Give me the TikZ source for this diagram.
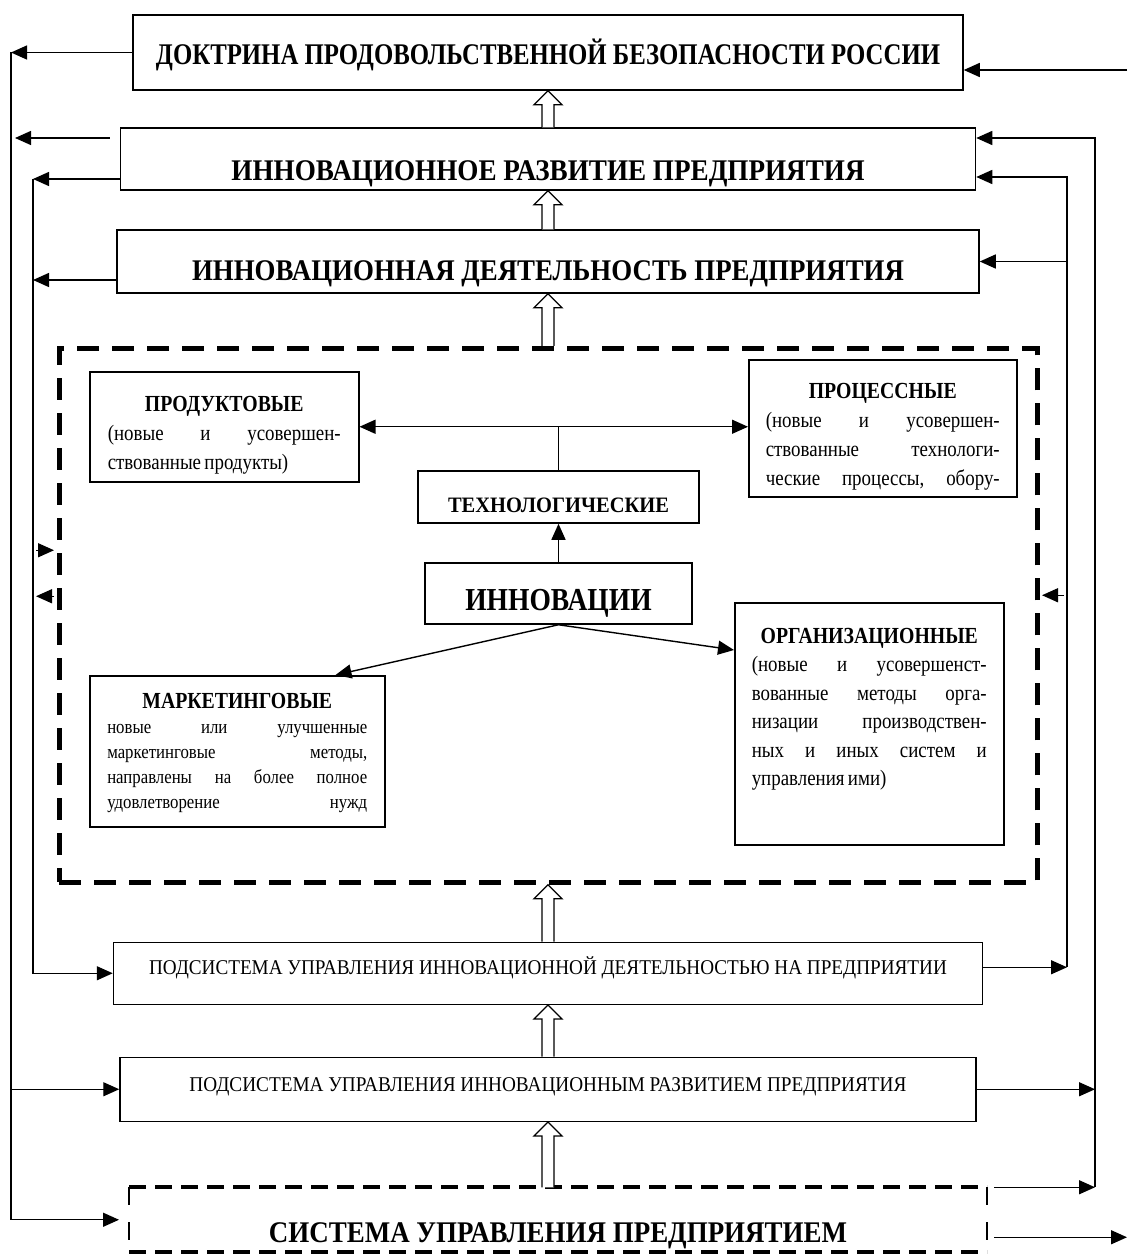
\documentclass[tikz,border=0pt]{standalone}
\usepackage{fontspec}
\usepackage{graphicx}
\setmainfont[FakeStretch=0.86]{Liberation Serif}
\usetikzlibrary{arrows.meta,calc,positioning}

\newcommand{\wide}[2]{\resizebox{#1}{\height}{#2}}
\newcommand{\hollow}[2]{%
  \draw[hollowarr] ($(#2.south |- #1.north)+(-6,0)$) -- ($(#2.south)+(-6,14)$) -- ($(#2.south)+(-14,14)$)
    -- (#2.south) -- ($(#2.south)+(14,14)$) -- ($(#2.south)+(6,14)$) -- ($(#2.south |- #1.north)+(6,0)$);}

\begin{document}
\begin{tikzpicture}[
    x=1pt, y=-1pt,
    box/.style={draw, line width=1.5pt, inner sep=0pt, align=center},
    big/.style={font=\fontsize{30}{36}\selectfont\bfseries},
    small/.style={font=\fontsize{21}{25}\selectfont},
    cell/.style={draw, line width=1.5pt, inner ysep=0pt, align=left, anchor=north west},
    arr/.style={-{Triangle[length=16pt,width=14pt]}, line width=1.4pt},
    both/.style={{Triangle[length=16pt,width=14pt]}-{Triangle[length=16pt,width=14pt]}, line width=1.4pt},
    hollowarr/.style={line width=1.3pt, fill=white},
    frame/.style={draw, line width=5pt, dash pattern=on 22pt off 13pt},
    sysh/.style={line width=4pt, dash pattern=on 17pt off 9pt},
    sysv/.style={line width=2.5pt, dash pattern=on 18pt off 17pt}
]
    \useasboundingbox (0,0) rectangle (1127,1255);

    \node[box, big, minimum width=830pt, minimum height=75pt, text height=25pt, text depth=0pt] (doc) at (548,52.5) {\wide{784pt}{ДОКТРИНА ПРОДОВОЛЬСТВЕННОЙ БЕЗОПАСНОСТИ РОССИИ}};
    \node[box, big, minimum width=855pt, minimum height=62pt, text height=42pt, text depth=0pt, below=36.5pt of doc] (dev) {\wide{633pt}{ИННОВАЦИОННОЕ РАЗВИТИЕ ПРЕДПРИЯТИЯ}};
    \node[box, big, minimum width=862pt, minimum height=63pt, text height=37pt, text depth=0pt, below=38.5pt of dev] (act) {\wide{712pt}{ИННОВАЦИОННАЯ ДЕЯТЕЛЬНОСТЬ ПРЕДПРИЯТИЯ}};
    \node[frame, minimum width=978pt, minimum height=534pt, below=52pt of act] (frame) {};
    \node[box, small, minimum width=869pt, minimum height=62pt, text height=14pt, text depth=12pt, below=56.75pt of frame] (sub1) {\wide{798pt}{ПОДСИСТЕМА УПРАВЛЕНИЯ ИННОВАЦИОННОЙ ДЕЯТЕЛЬНОСТЬЮ НА ПРЕДПРИЯТИИ}};
    \node[box, small, minimum width=856pt, minimum height=64pt, text height=14pt, text depth=10pt, below=51.5pt of sub1] (sub2) {\wide{717pt}{ПОДСИСТЕМА УПРАВЛЕНИЯ ИННОВАЦИОННЫМ РАЗВИТИЕМ ПРЕДПРИЯТИЯ}};
    \node[box, big, draw=none, outer sep=0pt, minimum width=858pt, minimum height=65pt, text height=45pt, text depth=0pt, below=65.25pt of sub2, xshift=10pt] (sys) {\wide{578pt}{СИСТЕМА УПРАВЛЕНИЯ ПРЕДПРИЯТИЕМ}};
    \draw[sysh] (sys.north west) -- (sys.north east);
    \draw[sysh] (sys.south west) -- (sys.south east);
    \draw[sysv] (sys.north west) -- (sys.south west);
    \draw[sysv] (sys.north east) -- (sys.south east);

    \node[box, font=\fontsize{32}{38}\selectfont\bfseries, minimum width=267pt, minimum height=61pt, text height=34pt, text depth=0pt] (inn) at (558.5,593.5) {ИННОВАЦИИ};
    \node[box, font=\fontsize{22}{26}\selectfont\bfseries, minimum width=281pt, minimum height=52pt, text height=30pt, text depth=0pt, above=38.5pt of inn] (tech) {\wide{221pt}{ТЕХНОЛОГИЧЕСКИЕ}};
    \node[cell, inner xsep=18pt, text width=233pt, text height=39.5pt, text depth=70.5pt] (prod) at (89,371)
        {\centering\fontsize{23}{28}\selectfont\bfseries ПРОДУКТОВЫЕ\par
         \raggedright\fontsize{22}{29}\selectfont\mdseries (новые\hfill и\hfill усовершен-\\ствованные продукты)\par};
    \node[cell, inner xsep=17pt, text width=234pt, text height=38.5pt, text depth=98.5pt] (proc) at (748,359)
        {\centering\fontsize{23}{28}\selectfont\bfseries ПРОЦЕССНЫЕ\par
         \raggedright\fontsize{22}{29}\selectfont\mdseries (новые\hfill и\hfill усовершен-\\ствованные\hfill технологи-\\ческие\hfill процессы,\hfill обору-\par};
    \node[cell, inner xsep=17.5pt, text width=260pt, text height=32.5pt, text depth=118.5pt] (mark) at (89,675)
        {\centering\fontsize{23}{28}\selectfont\bfseries МАРКЕТИНГОВЫЕ\par
         \raggedright\fontsize{19.5}{25}\selectfont\mdseries новые\hfill или\hfill улучшенные\\маркетинговые\hfill методы,\\направлены\hfill на\hfill более\hfill полное\\удовлетворение\hfill нужд\par};
    \node[cell, inner xsep=17pt, text width=235pt, text height=40.5pt, text depth=201.5pt] (org) at (734,602)
        {\centering\fontsize{23}{28}\selectfont\bfseries ОРГАНИЗАЦИОННЫЕ\par
         \raggedright\fontsize{22}{28.5}\selectfont\mdseries (новые\hfill и\hfill усовершенст-\\вованные\hfill методы\hfill орга-\\низации\hfill производствен-\\ных\hfill и\hfill иных\hfill систем\hfill и\\управления ими)\par};

    \coordinate (L1) at (11,52.5);
    \coordinate (L2) at (33,179);
    \coordinate (R0) at (1127,70);
    \coordinate (R1) at (1095,138);
    \coordinate (R2) at (1067,177);

    \hollow{dev}{doc}
    \hollow{act}{dev}
    \hollow{frame}{act}
    \hollow{sub1}{frame}
    \hollow{sub2}{sub1}
    \hollow{sys}{sub2}

    \draw[arr] (inn) -- (tech);
    \draw[line width=1.4pt] (tech.north) -- (tech.north |- prod.east);
    \draw[both] (prod.east) -- (prod.east -| proc.west);
    \draw[arr] (inn.south) -- ([xshift=-50pt]mark.north east);
    \draw[arr] (inn.south) -- ([yshift=-48pt]org.north west);

    \draw[arr] (doc.west) -- (L1);
    \draw[arr, shorten >=10pt] (L1) |- (sys.west);
    \draw[arr] (L1 |- sub2.west) -- (sub2.west);
    \draw[arr, shorten <=10pt, shorten >=4pt] ([yshift=21pt]dev.west) -- ([yshift=21pt]dev.west -| L1);
    \draw[arr] ([yshift=-20pt]dev.west) -- (L2);
    \draw[arr] (L2) |- (sub1.west);
    \draw[arr] ([yshift=-18.5pt]act.west) -- ([yshift=-18.5pt]act.west -| L2);
    \draw[arr, shorten <=3pt, shorten >=2.5pt] ([yshift=65pt]frame.west -| L2) -- ([yshift=65pt]frame.west);
    \draw[arr, shorten <=2.5pt, shorten >=3pt] ([yshift=19pt]frame.west) -- ([yshift=19pt]frame.west -| L2);

    \draw[arr] (R0) -- (R0 -| doc.east);
    \draw[arr] (sys.north east -| R1) |- ([yshift=21pt]dev.east);
    \draw[arr, shorten <=7pt] (sys.north east) -- (sys.north east -| R1);
    \draw[arr] (sub2.east) -- (sub2.east -| R1);
    \draw[arr, shorten <=7pt] ([yshift=-17.5pt]sys.east) -- ([yshift=-17.5pt]sys.east -| R0);
    \draw[arr] ([yshift=6pt]sub1.east) -- ([yshift=6pt]sub1.east -| R2);
    \draw[arr] ([yshift=6pt]sub1.east -| R2) |- ([yshift=-18pt]dev.east);
    \draw[arr] (act.east -| R2) -- (act.east);
    \draw[arr, shorten <=3pt, shorten >=2.5pt] ([yshift=20pt]frame.east -| R2) -- ([yshift=20pt]frame.east);
\end{tikzpicture}
\end{document}
